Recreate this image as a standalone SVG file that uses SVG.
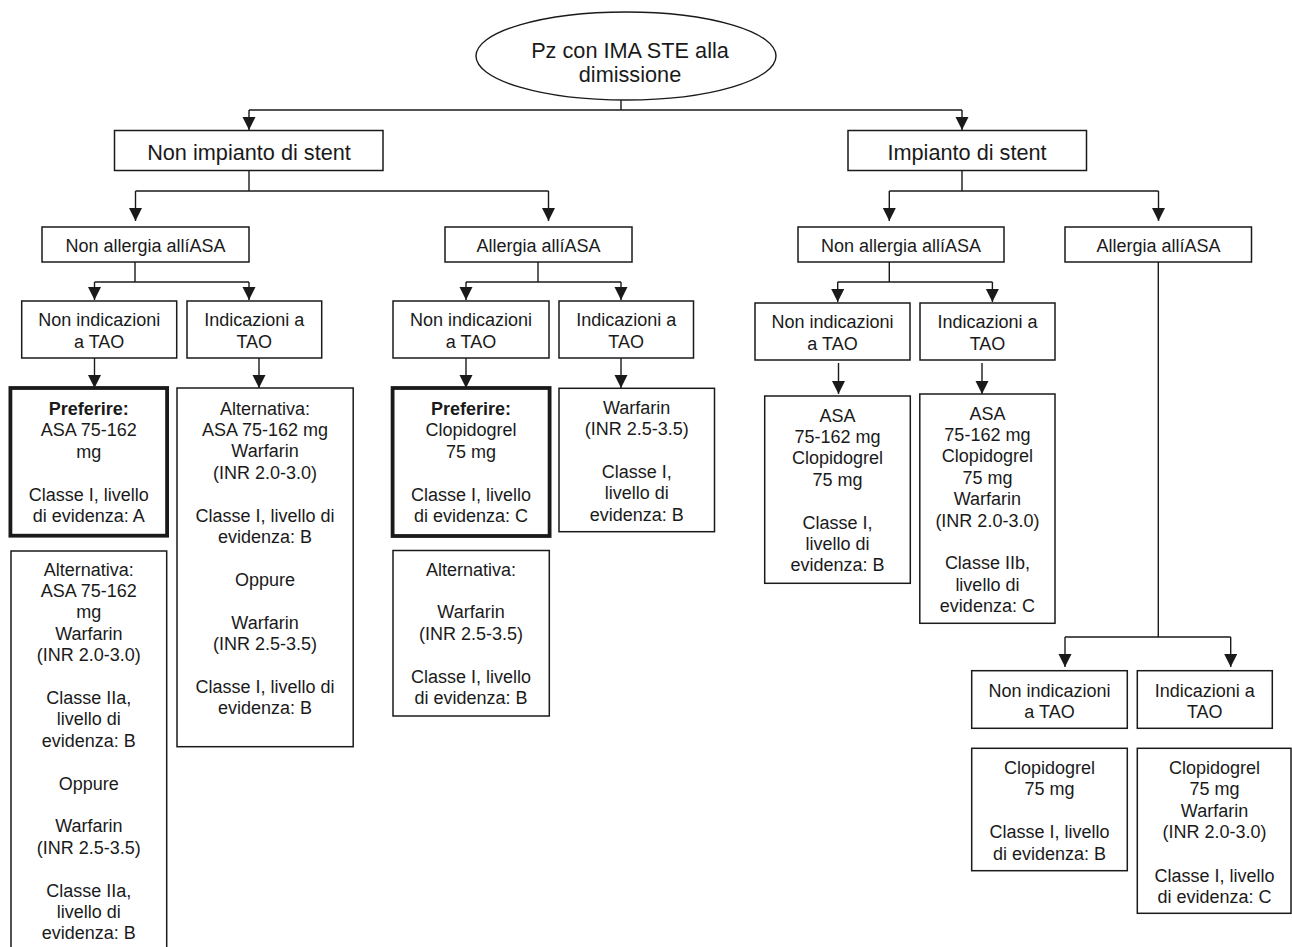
<svg xmlns="http://www.w3.org/2000/svg" width="1292" height="947" viewBox="0 0 1292 947">
<defs>
<marker id="ah" markerUnits="userSpaceOnUse" markerWidth="13" markerHeight="14" refX="13" refY="6.5" orient="auto">
<path d="M0,0 L13,6.5 L0,13 z" fill="#1a1a1a"/>
</marker>
<style>
.bx{fill:#fff;stroke:#1a1a1a;stroke-width:1.5}
.tk{fill:#fff;stroke:#1a1a1a;stroke-width:3.8}
.ln{fill:none;stroke:#1a1a1a;stroke-width:1.4}
.ar{fill:none;stroke:#1a1a1a;stroke-width:1.4;marker-end:url(#ah)}
text{font-family:"Liberation Sans",Arial,sans-serif;fill:#1a1a1a;text-anchor:middle}
.t{font-size:18px}
.tl{font-size:21.7px}
.b{font-weight:bold}
</style>
</defs>
<rect width="1292" height="947" fill="#fff"/>

<g id="connectors">
<path class="ln" d="M621,100 V110 M249,110 H962"/>
<path class="ar" d="M249,110 V130"/>
<path class="ar" d="M962,110 V130"/>
<path class="ln" d="M249,171 V191 M135.5,191 H548.5"/>
<path class="ar" d="M135.5,191 V221"/>
<path class="ar" d="M548.5,191 V221"/>
<path class="ln" d="M962,171 V191 M889.3,191 H1158.5"/>
<path class="ar" d="M889.3,191 V221"/>
<path class="ar" d="M1158.5,191 V221"/>
<path class="ln" d="M135,262 V282 M94.5,282 H249"/>
<path class="ar" d="M94.5,282 V300"/>
<path class="ar" d="M249,282 V300"/>
<path class="ln" d="M538,262 V282 M466,282 H621"/>
<path class="ar" d="M466,282 V300"/>
<path class="ar" d="M621,282 V300"/>
<path class="ln" d="M889.3,262 V282 M837.7,282 H992.4"/>
<path class="ar" d="M837.7,282 V302"/>
<path class="ar" d="M992.4,282 V302"/>
<path class="ar" d="M94.5,358 V388"/>
<path class="ar" d="M259,358 V388"/>
<path class="ar" d="M466,358 V388"/>
<path class="ar" d="M621,358 V388"/>
<path class="ar" d="M838.5,363 V394"/>
<path class="ar" d="M982,363 V394"/>
<path class="ln" d="M1158.3,262 V637 M1065,637 H1230.7"/>
<path class="ar" d="M1065,637 V667"/>
<path class="ar" d="M1230.7,637 V667"/>
</g>

<g id="root">
<ellipse cx="626" cy="56" rx="150" ry="44" fill="#fff" stroke="#1a1a1a" stroke-width="1.4"/>
<text class="tl" x="630" y="57.5">Pz con IMA STE alla</text>
<text class="tl" x="630" y="82">dimissione</text>
</g>

<g id="non-impianto">
<rect class="bx" x="114.5" y="130.5" width="268.5" height="40"/>
<text class="tl" x="249" y="159.5">Non impianto di stent</text>
</g>
<g id="impianto">
<rect class="bx" x="848" y="130.5" width="238.5" height="40"/>
<text class="tl" x="967" y="159.5">Impianto di stent</text>
</g>

<g id="non-allergia-l">
<rect class="bx" x="42" y="227" width="207" height="35"/>
<text class="t" x="145.5" y="251.5">Non allergia allíASA</text>
</g>
<g id="allergia-l">
<rect class="bx" x="445" y="227" width="187" height="35"/>
<text class="t" x="538.5" y="251.5">Allergia allíASA</text>
</g>
<g id="non-allergia-r">
<rect class="bx" x="798" y="227" width="206" height="35"/>
<text class="t" x="901" y="251.5">Non allergia allíASA</text>
</g>
<g id="allergia-r">
<rect class="bx" x="1065" y="227" width="186.5" height="35"/>
<text class="t" x="1158.5" y="251.5">Allergia allíASA</text>
</g>

<g id="l1">
<rect class="bx" x="21.7" y="301" width="155" height="57"/>
<text class="t" x="99.2" y="325.8">Non indicazioni<tspan x="99.2" dy="21.7">a TAO</tspan></text>
</g>
<g id="l2">
<rect class="bx" x="187" y="301" width="134.7" height="57"/>
<text class="t" x="254.3" y="325.8">Indicazioni a<tspan x="254.3" dy="21.7">TAO</tspan></text>
</g>
<g id="l3">
<rect class="bx" x="393" y="301" width="156" height="57"/>
<text class="t" x="471" y="325.8">Non indicazioni<tspan x="471" dy="21.7">a TAO</tspan></text>
</g>
<g id="l4">
<rect class="bx" x="559" y="301" width="134.5" height="57"/>
<text class="t" x="626.2" y="325.8">Indicazioni a<tspan x="626.2" dy="21.7">TAO</tspan></text>
</g>
<g id="l5">
<rect class="bx" x="755" y="303" width="155" height="57"/>
<text class="t" x="832.5" y="328.2">Non indicazioni<tspan x="832.5" dy="21.7">a TAO</tspan></text>
</g>
<g id="l6">
<rect class="bx" x="920" y="303" width="135" height="57"/>
<text class="t" x="987.5" y="328.2">Indicazioni a<tspan x="987.5" dy="21.7">TAO</tspan></text>
</g>
<g id="l7">
<rect class="bx" x="971.7" y="670.7" width="155.6" height="57.6"/>
<text class="t" x="1049.5" y="696.5">Non indicazioni<tspan x="1049.5" dy="21.7">a TAO</tspan></text>
</g>
<g id="l8">
<rect class="bx" x="1137.3" y="670.7" width="135" height="57.6"/>
<text class="t" x="1204.8" y="696.5">Indicazioni a<tspan x="1204.8" dy="21.7">TAO</tspan></text>
</g>

<g id="p1">
<rect class="tk" x="10.4" y="388" width="156.7" height="147.7"/>
<text class="t" x="88.7" y="414.5"><tspan class="b">Preferire:</tspan><tspan x="88.7" dy="21.5">ASA 75-162</tspan><tspan x="88.7" dy="21.5">mg</tspan><tspan x="88.7" dy="43">Classe I, livello</tspan><tspan x="88.7" dy="21.5">di evidenza: A</tspan></text>
</g>
<g id="a1">
<rect class="bx" x="11" y="551" width="155.7" height="420"/>
<text class="t" x="88.8" y="575.5">Alternativa:<tspan x="88.8" dy="21.4">ASA 75-162</tspan><tspan x="88.8" dy="21.4">mg</tspan><tspan x="88.8" dy="21.4">Warfarin</tspan><tspan x="88.8" dy="21.4">(INR 2.0-3.0)</tspan><tspan x="88.8" dy="42.8">Classe IIa,</tspan><tspan x="88.8" dy="21.4">livello di</tspan><tspan x="88.8" dy="21.4">evidenza: B</tspan><tspan x="88.8" dy="42.8">Oppure</tspan><tspan x="88.8" dy="42.8">Warfarin</tspan><tspan x="88.8" dy="21.4">(INR 2.5-3.5)</tspan><tspan x="88.8" dy="42.8">Classe IIa,</tspan><tspan x="88.8" dy="21.4">livello di</tspan><tspan x="88.8" dy="21.4">evidenza: B</tspan></text>
</g>
<g id="a2">
<rect class="bx" x="177" y="388" width="176.2" height="358.7"/>
<text class="t" x="265" y="414.5">Alternativa:<tspan x="265" dy="21.4">ASA 75-162 mg</tspan><tspan x="265" dy="21.4">Warfarin</tspan><tspan x="265" dy="21.4">(INR 2.0-3.0)</tspan><tspan x="265" dy="42.8">Classe I, livello di</tspan><tspan x="265" dy="21.4">evidenza: B</tspan><tspan x="265" dy="42.8">Oppure</tspan><tspan x="265" dy="42.8">Warfarin</tspan><tspan x="265" dy="21.4">(INR 2.5-3.5)</tspan><tspan x="265" dy="42.8">Classe I, livello di</tspan><tspan x="265" dy="21.4">evidenza: B</tspan></text>
</g>
<g id="p2">
<rect class="tk" x="392.6" y="388" width="157" height="148"/>
<text class="t" x="471" y="414.5"><tspan class="b">Preferire:</tspan><tspan x="471" dy="21.5">Clopidogrel</tspan><tspan x="471" dy="21.5">75 mg</tspan><tspan x="471" dy="43">Classe I, livello</tspan><tspan x="471" dy="21.5">di evidenza: C</tspan></text>
</g>
<g id="a3">
<rect class="bx" x="393" y="550.5" width="156.3" height="165.5"/>
<text class="t" x="471" y="575.5">Alternativa:<tspan x="471" dy="42.8">Warfarin</tspan><tspan x="471" dy="21.4">(INR 2.5-3.5)</tspan><tspan x="471" dy="42.8">Classe I, livello</tspan><tspan x="471" dy="21.4">di evidenza: B</tspan></text>
</g>
<g id="a4">
<rect class="bx" x="559" y="388.3" width="155.5" height="143.4"/>
<text class="t" x="636.7" y="413.5">Warfarin<tspan x="636.7" dy="21.4">(INR 2.5-3.5)</tspan><tspan x="636.7" dy="42.8">Classe I,</tspan><tspan x="636.7" dy="21.4">livello di</tspan><tspan x="636.7" dy="21.4">evidenza: B</tspan></text>
</g>
<g id="r1">
<rect class="bx" x="764.7" y="396" width="145.6" height="187.3"/>
<text class="t" x="837.5" y="421.5">ASA<tspan x="837.5" dy="21.4">75-162 mg</tspan><tspan x="837.5" dy="21.4">Clopidogrel</tspan><tspan x="837.5" dy="21.4">75 mg</tspan><tspan x="837.5" dy="42.8">Classe I,</tspan><tspan x="837.5" dy="21.4">livello di</tspan><tspan x="837.5" dy="21.4">evidenza: B</tspan></text>
</g>
<g id="r2">
<rect class="bx" x="919.8" y="394" width="135.2" height="229.3"/>
<text class="t" x="987.4" y="419.5">ASA<tspan x="987.4" dy="21.4">75-162 mg</tspan><tspan x="987.4" dy="21.4">Clopidogrel</tspan><tspan x="987.4" dy="21.4">75 mg</tspan><tspan x="987.4" dy="21.4">Warfarin</tspan><tspan x="987.4" dy="21.4">(INR 2.0-3.0)</tspan><tspan x="987.4" dy="42.8">Classe IIb,</tspan><tspan x="987.4" dy="21.4">livello di</tspan><tspan x="987.4" dy="21.4">evidenza: C</tspan></text>
</g>
<g id="r3">
<rect class="bx" x="971.7" y="748.3" width="155.6" height="122.4"/>
<text class="t" x="1049.5" y="773.5">Clopidogrel<tspan x="1049.5" dy="21.6">75 mg</tspan><tspan x="1049.5" dy="43.2">Classe I, livello</tspan><tspan x="1049.5" dy="21.6">di evidenza: B</tspan></text>
</g>
<g id="r4">
<rect class="bx" x="1137.3" y="748.3" width="153.7" height="165"/>
<text class="t" x="1214.5" y="773.5">Clopidogrel<tspan x="1214.5" dy="21.6">75 mg</tspan><tspan x="1214.5" dy="21.6">Warfarin</tspan><tspan x="1214.5" dy="21.6">(INR 2.0-3.0)</tspan><tspan x="1214.5" dy="43.2">Classe I, livello</tspan><tspan x="1214.5" dy="21.6">di evidenza: C</tspan></text>
</g>
</svg>
